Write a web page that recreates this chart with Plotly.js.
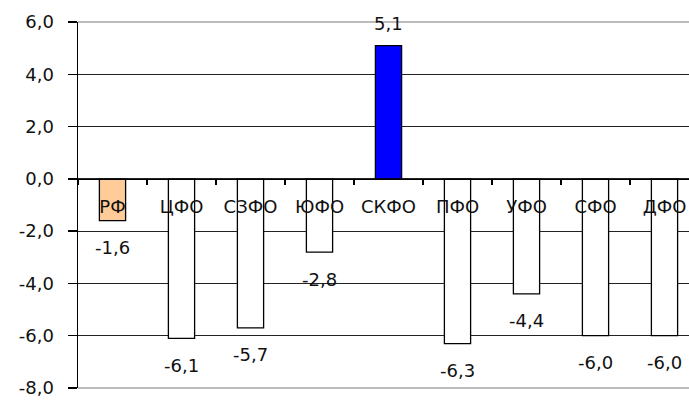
<!DOCTYPE html>
<html>
<head>
<meta charset="utf-8">
<script src="https://cdn.plot.ly/plotly-3.0.1.min.js"></script>
<style>html,body{margin:0;padding:0;background:#fff;}#chart{width:689px;height:400px;}</style>
</head>
<body>
<div id="chart"></div>
<script>
const categories = ['РФ', 'ЦФО', 'СЗФО', 'ЮФО', 'СКФО', 'ПФО', 'УФО', 'СФО', 'ДФО'];
const values = [-1.6, -6.1, -5.7, -2.8, 5.1, -6.3, -4.4, -6.0, -6.0];
const barColors = ['#FFCC99', '#FFFFFF', '#FFFFFF', '#FFFFFF', '#0000FF', '#FFFFFF', '#FFFFFF', '#FFFFFF', '#FFFFFF'];
const yTicks = [-8, -6, -4, -2, 0, 2, 4, 6];
const yTickText = yTicks.map(v => v.toFixed(1).replace('.', ','));

const mkFont = () => ({family: 'DejaVu Sans, Verdana, sans-serif', size: 18, color: '#111'});
const yMin = -8, yMax = 6;

const trace = {
  type: 'bar',
  x: categories,
  y: values,
  width: 0.38,
  marker: {color: barColors, line: {color: '#000', width: 1.3}},
  hoverinfo: 'none'
};

const annotations = categories.map((c, i) => ({
  x: c, y: values[i], xref: 'x', yref: 'y',
  text: values[i].toFixed(1).replace('.', ','),
  showarrow: false,
  yshift: values[i] < 0 ? -27 : 22,
  font: mkFont()
}));

const layout = {
  width: 689, height: 400,
  margin: {l: 78, r: 0, t: 22, b: 12},
  paper_bgcolor: '#fff', plot_bgcolor: '#fff',
  showlegend: false,
  font: mkFont(),
  xaxis: {
    type: 'category',
    range: [-0.5, 8.355],
    anchor: 'free',
    position: (0 - yMin) / (yMax - yMin),
    showline: true, linecolor: '#000', linewidth: 1.3,
    ticks: 'outside', tickson: 'boundaries', ticklen: 5, tickcolor: '#000', tickwidth: 1.3,
    showgrid: false, zeroline: false,
    tickfont: mkFont(),
    ticklabelstandoff: 11
  },
  yaxis: {
    range: [yMin, yMax],
    tickmode: 'array',
    tickvals: yTicks,
    ticktext: yTickText,
    showline: true, linecolor: '#000', linewidth: 1.5,
    ticks: 'outside', ticklen: 9, tickcolor: '#000', tickwidth: 1.3,
    showgrid: true, gridcolor: '#222', gridwidth: 1.2,
    zeroline: false,
    tickfont: mkFont(),
    ticklabelstandoff: 10
  },
  shapes: [
    {type: 'line', xref: 'paper', yref: 'paper', x0: 0, x1: 1, y0: 1, y1: 1, line: {color: '#A6A6A6', width: 1.5}, layer: 'above'},
    {type: 'line', xref: 'paper', yref: 'paper', x0: 0, x1: 1, y0: 0, y1: 0, line: {color: '#A6A6A6', width: 1.5}, layer: 'above'}
  ],
  annotations: annotations
};

Plotly.newPlot('chart', [trace], layout, {displayModeBar: false, staticPlot: true});
</script>
</body>
</html>
